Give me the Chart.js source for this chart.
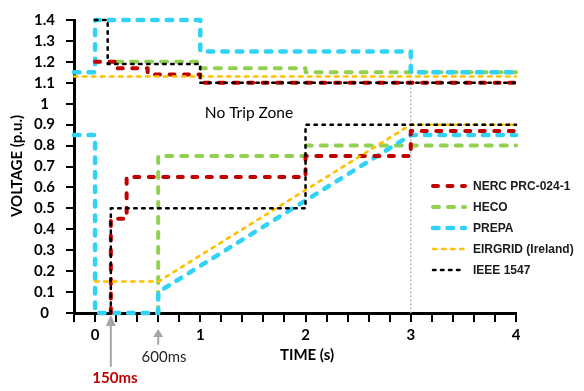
<!DOCTYPE html>
<html><head><meta charset="utf-8">
<script src="https://cdn.jsdelivr.net/npm/chart.js@4.4.1/dist/chart.umd.min.js"></script>
<style>html,body{margin:0;padding:0;background:#fff;}canvas{display:block}</style>
</head><body>
<canvas id="c" width="584" height="391"></canvas>
<script>
// ---- data (time in s, voltage in p.u.); null separates the high- and low-voltage boundaries
const seriesNames = ['NERC PRC-024-1', 'HECO', 'PREPA', 'EIRGRID (Ireland)', 'IEEE 1547'];
const nercTime  = [0, 0.2, 0.2, 0.5, 0.5, 1, 1, 4, null, 0.15, 0.15, 0.3, 0.3, 2, 2, 3, 3, 4];
const nercVolt  = [1.2, 1.2, 1.17, 1.17, 1.14, 1.14, 1.1, 1.1, null, 0, 0.45, 0.45, 0.65, 0.65, 0.75, 0.75, 0.87, 0.87];
const hecoTime  = [0.2, 1, 1, 2, 2, 4, null, 0.6, 0.6, 2, 2, 4];
const hecoVolt  = [1.2, 1.2, 1.17, 1.17, 1.15, 1.15, null, 0, 0.75, 0.75, 0.8, 0.8];
const prepaTime = [-0.2, 0, 0, 1, 1, 3, 3, 4, null, -0.2, 0, 0, 0.6, 0.6, 3, 4];
const prepaVolt = [1.15, 1.15, 1.4, 1.4, 1.25, 1.25, 1.15, 1.15, null, 0.85, 0.85, 0, 0, 0.1, 0.85, 0.85];
const eirTime   = [-0.2, 4, null, 0, 0.6, 3, 4];
const eirVolt   = [1.13, 1.13, null, 0.15, 0.15, 0.9, 0.9];
const ieeeTime  = [0, 0.12, 0.12, 1, 1, 4, null, 0.15, 0.15, 2, 2, 4];
const ieeeVolt  = [1.4, 1.4, 1.19, 1.19, 1.1, 1.1, null, 0, 0.5, 0.5, 0.9, 0.9];
const markerTime = [3, 3];
const markerVolt = [1.25, 0];
const xTickLabels = ['0', '1', '2', '3', '4'];
const annotationTimes = [0.15, 0.6];
const annotationLabels = ['150ms', '600ms'];

function pts(t, v) { return t.map((x, i) => ({ x: x, y: v[i] })); }

const styles = [
  { c: '#c00000', w: 4,   d: [5, 9.5], o: 2 },
  { c: '#92d050', w: 4,   d: [6, 9],   o: 4 },
  { c: '#30d3f6', w: 4.5, d: [5.5, 9], o: 3 },
  { c: '#ffc000', w: 2.5, d: [3.5, 5.5], o: 1 },
  { c: '#000000', w: 2.5, d: [2.5, 5.5], o: 0 }
];
const seriesPts = [pts(nercTime, nercVolt), pts(hecoTime, hecoVolt), pts(prepaTime, prepaVolt), pts(eirTime, eirVolt), pts(ieeeTime, ieeeVolt)];

const datasets = seriesNames.map((n, i) => ({
  label: n, data: seriesPts[i], borderColor: styles[i].c, borderWidth: styles[i].w,
  borderDash: styles[i].d, borderCapStyle: 'round', borderJoinStyle: 'round',
  pointRadius: 0, fill: false, tension: 0, spanGaps: false, clip: false, order: styles[i].o
}));
datasets.push({
  label: 'marker', data: pts(markerTime, markerVolt), borderColor: '#bdbdbd', borderWidth: 1.5,
  borderDash: [2, 2], pointRadius: 0, fill: false, clip: false, order: 10
});

const FONT = 'Lato, "Open Sans", sans-serif';

const extras = {
  id: 'extras',
  afterDraw(chart) {
    const { ctx, scales: { x, y } } = chart;
    ctx.save();
    // legend
    const lx0 = 433, lx1 = 465, ly0 = 186, dy = 21;
    seriesNames.forEach((n, k) => {
      const ds = chart.data.datasets[k];
      const yy = ly0 + k * dy;
      ctx.strokeStyle = ds.borderColor; ctx.lineWidth = ds.borderWidth;
      ctx.setLineDash(ds.borderDash); ctx.lineCap = 'round';
      ctx.beginPath(); ctx.moveTo(lx0, yy); ctx.lineTo(lx1, yy); ctx.stroke();
      ctx.setLineDash([]);
      ctx.fillStyle = '#1a1a1a'; ctx.font = 'bold 12px "Liberation Sans", Arial, sans-serif';
      ctx.textAlign = 'left'; ctx.textBaseline = 'middle';
      ctx.fillText(n, 473, yy + 0.5);
    });
    // zone label
    ctx.fillStyle = '#000'; ctx.font = '15.5px ' + FONT; ctx.textAlign = 'center';
    ctx.fillText('No Trip Zone', 249, 113);
    // axis titles
    ctx.font = 'bold 15px ' + FONT;
    ctx.fillText('TIME (s)', 307, 355);
    ctx.save(); ctx.translate(17, 166); ctx.rotate(-Math.PI / 2);
    ctx.fillText('VOLTAGE (p.u.)', 0, 0); ctx.restore();
    // arrows
    ctx.fillStyle = '#a6a6a6'; ctx.strokeStyle = '#a6a6a6'; ctx.lineWidth = 2;
    const a1 = x.getPixelForValue(annotationTimes[0]);
    ctx.beginPath(); ctx.moveTo(a1, 315); ctx.lineTo(a1 - 5, 326); ctx.lineTo(a1 + 5, 326); ctx.closePath(); ctx.fill();
    ctx.beginPath(); ctx.moveTo(a1, 325); ctx.lineTo(a1, 366); ctx.stroke();
    const a2 = x.getPixelForValue(annotationTimes[1]);
    ctx.beginPath(); ctx.moveTo(a2, 329); ctx.lineTo(a2 - 5, 337); ctx.lineTo(a2 + 5, 337); ctx.closePath(); ctx.fill();
    ctx.beginPath(); ctx.moveTo(a2, 336); ctx.lineTo(a2, 344); ctx.stroke();
    // annotation labels
    ctx.font = 'bold 15px ' + FONT; ctx.fillStyle = '#c00000';
    ctx.fillText(annotationLabels[0], 115, 378);
    ctx.font = '15px ' + FONT; ctx.fillStyle = '#262626';
    ctx.fillText(annotationLabels[1], 164, 357);
    ctx.restore();
  }
};

new Chart(document.getElementById('c'), {
  type: 'line',
  data: { datasets },
  options: {
    responsive: false, animation: false, devicePixelRatio: 1,
    layout: { padding: { left: 0, right: 68, top: 17, bottom: 0 } },
    plugins: { legend: { display: false }, tooltip: { enabled: false } },
    scales: {
      x: {
        type: 'linear', min: -0.2, max: 4,
        afterFit(s) { s.height = 78; },
        border: { display: true, color: '#000', width: 3 },
        grid: { drawOnChartArea: false, drawTicks: true, tickLength: 9, color: '#000', lineWidth: 2 },
        ticks: {
          stepSize: 0.2, autoSkip: false, maxRotation: 0, padding: 4, color: '#000',
          font: { family: FONT, size: 15, weight: 'bold' },
          callback(v) { const r = Math.round(v); return Math.abs(v - r) < 1e-6 && r >= 0 ? xTickLabels[r] : ''; }
        }
      },
      y: {
        type: 'linear', min: 0, max: 1.4,
        afterFit(s) { s.width = 74; },
        border: { display: true, color: '#000', width: 3 },
        grid: { drawOnChartArea: false, drawTicks: true, tickLength: 8, color: '#000', lineWidth: 2 },
        ticks: {
          stepSize: 0.1, autoSkip: false, padding: 11, crossAlign: 'center', color: '#000',
          font: { family: FONT, size: 15, weight: 'bold' },
          callback(v) { return String(Math.round(v * 10) / 10); }
        }
      }
    }
  },
  plugins: [extras]
});
</script>
</body></html>
